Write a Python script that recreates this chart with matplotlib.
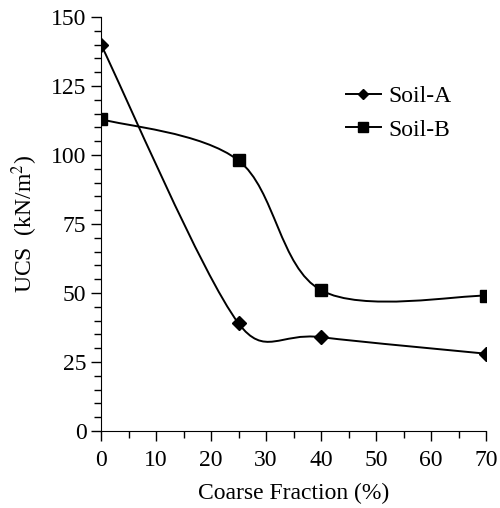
import matplotlib
matplotlib.use('Agg')
import matplotlib.pyplot as plt
import numpy as np
from matplotlib.path import Path
from matplotlib.patches import PathPatch
from matplotlib.ticker import MultipleLocator

coarse_fraction = [0, 25, 40, 70]
soil_a = [140, 39, 34, 28]
soil_b = [113, 98, 51, 49]

plt.rcParams['font.family'] = ['Liberation Serif', 'DejaVu Serif']
plt.rcParams['mathtext.fontset'] = 'stix'


def smooth_path(x, y, xspan, yspan):
    # Excel-style smoothed line: Catmull-Rom as cubic Bezier, computed in normalised units,
    # with the handle length capped at half the segment length
    p = np.column_stack([np.asarray(x, float) / xspan, np.asarray(y, float) / yspan])
    n = len(p)
    verts = [p[0]]
    codes = [Path.MOVETO]

    def cap(v, seg):
        lim = 0.5 * np.hypot(*seg)
        l = np.hypot(*v)
        return v * (lim / l) if l > lim else v

    for i in range(n - 1):
        seg = p[i + 1] - p[i]
        p0 = p[i - 1] if i > 0 else p[i]
        p3 = p[i + 2] if i + 2 < n else p[i + 1]
        c1 = p[i] + cap((p[i + 1] - p0) / 6, seg)
        c2 = p[i + 1] - cap((p3 - p[i]) / 6, seg)
        verts += [c1, c2, p[i + 1]]
        codes += [Path.CURVE4] * 3
    verts = np.array(verts) * [xspan, yspan]
    return Path(verts, codes)


fig = plt.figure(figsize=(5.0, 5.08), dpi=100)
ax = fig.add_axes([0.202, 0.1516, 0.770, 0.815])

for ys, marker, ms, label in [(soil_a, 'D', 7, 'Soil-A'), (soil_b, 's', 9, 'Soil-B')]:
    ax.add_patch(PathPatch(smooth_path(coarse_fraction, ys, 70, 150), fill=False,
                           edgecolor='black', linewidth=1.4))
    ax.plot(coarse_fraction, ys, linestyle='none', marker=marker, markersize=ms,
            color='black')
    ax.plot([], [], color='black', linewidth=1.4, marker=marker, markersize=ms * 0.75,
            label=label)

ax.set_xlim(0, 70)
ax.set_ylim(0, 150)
ax.xaxis.set_major_locator(MultipleLocator(10))
ax.xaxis.set_minor_locator(MultipleLocator(5))
ax.yaxis.set_major_locator(MultipleLocator(25))
ax.yaxis.set_minor_locator(MultipleLocator(5))
ax.tick_params(which='major', length=7, width=1, labelsize=17, direction='out')
ax.tick_params(axis='x', which='major', pad=7)
ax.tick_params(which='minor', length=5, width=1, direction='out')
ax.spines['top'].set_visible(False)
ax.spines['right'].set_visible(False)
ax.set_xlabel('Coarse Fraction (%)', fontsize=17, labelpad=8)
ax.set_ylabel('UCS  (kN/m$^2$)', fontsize=17, labelpad=8)

ax.legend(loc='upper left', bbox_to_anchor=(0.58, 0.885), frameon=False, fontsize=17,
          handlelength=1.5, handletextpad=0.3, labelspacing=0.5)

fig.savefig('out.png', dpi=100)
